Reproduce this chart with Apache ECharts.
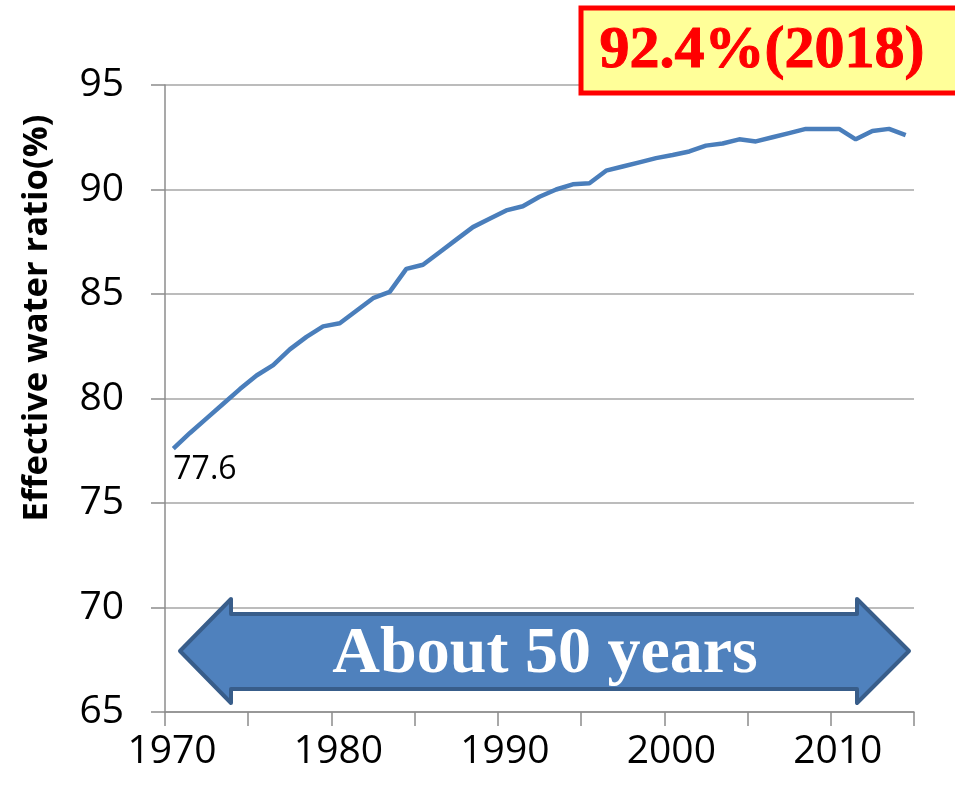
<!DOCTYPE html>
<html>
<head>
<meta charset="utf-8">
<script src="https://cdn.jsdelivr.net/npm/echarts@6/dist/echarts.min.js"></script>
<style>
html,body{margin:0;padding:0;background:#fff;}
#chart{width:955px;height:787px;}
</style>
</head>
<body>
<div id="chart"></div>
<script>
var years = [1970,1971,1972,1973,1974,1975,1976,1977,1978,1979,
             1980,1981,1982,1983,1984,1985,1986,1987,1988,1989,
             1990,1991,1992,1993,1994,1995,1996,1997,1998,1999,
             2000,2001,2002,2003,2004,2005,2006,2007,2008,2009,
             2010,2011,2012,2013,2014];
var ratio = [77.6,78.35,79.05,79.75,80.45,81.1,81.6,82.35,82.95,83.45,
             83.6,84.2,84.8,85.1,86.2,86.4,87.0,87.6,88.2,88.6,
             89.0,89.2,89.65,90.0,90.25,90.3,90.9,91.1,91.3,91.5,
             91.65,91.82,92.1,92.2,92.4,92.3,92.5,92.7,92.9,92.9,
             92.9,92.4,92.8,92.9,92.6];
var yTicks = [65,70,75,80,85,90,95];
var xTickLabels = [1970,1980,1990,2000,2010];
var yTitle = 'Effective water ratio(%)';
var startLabel = '77.6';
var boxText = '92.4%(2018)';
var arrowText = 'About 50 years';

var chart = echarts.init(document.getElementById('chart'));
var lineData = years.map(function (y, i) { return [y + 0.5, ratio[i]]; });

var option = {
  animation: false,
  backgroundColor: '#fff',
  grid: { left: 165, right: 41, top: 85, bottom: 75, containLabel: false },
  xAxis: {
    type: 'value', min: 1970, max: 2015, interval: 5,
    axisLine: { show: true, lineStyle: { color: '#8c8c8c', width: 1.5 } },
    axisTick: { show: true, length: 14, inside: false, lineStyle: { color: '#8c8c8c', width: 1.5 } },
    splitLine: { show: false },
    axisLabel: {
      margin: 20, fontFamily: 'Open Sans', fontSize: 39, color: '#000',
      padding: [0, 0, 0, 14],
      formatter: function (v) { return xTickLabels.indexOf(v) >= 0 ? String(v) : ''; }
    }
  },
  yAxis: {
    type: 'value', min: yTicks[0], max: yTicks[yTicks.length - 1], interval: 5,
    axisLine: { show: true, lineStyle: { color: '#8c8c8c', width: 1.5 } },
    axisTick: { show: true, length: 14, lineStyle: { color: '#8c8c8c', width: 1.5 } },
    splitLine: { show: true, lineStyle: { color: '#a6a6a6', width: 1.5 } },
    axisLabel: { margin: 41, fontFamily: 'Open Sans', fontSize: 39, color: '#000' }
  },
  series: [{
    type: 'line',
    data: lineData,
    showSymbol: false,
    symbol: 'none',
    lineStyle: { color: '#4a7ebb', width: 4.5 },
    z: 3,
    markPoint: {
      silent: true,
      symbol: 'circle',
      symbolSize: 1,
      itemStyle: { color: 'transparent' },
      label: {
        show: true, position: 'bottom', align: 'left', distance: 5,
        fontFamily: 'Open Sans', fontSize: 32, color: '#000000', opacity: 1
      },
      data: [{ coord: lineData[0], value: startLabel }]
    }
  }],
  graphic: [
    {
      type: 'text', x: 37, y: 318, rotation: Math.PI / 2, z: 10,
      style: {
        text: yTitle, fontFamily: 'Open Sans', fontWeight: 'bold', fontSize: 34.5,
        fill: '#000', align: 'center', verticalAlign: 'middle'
      }
    },
    {
      type: 'rect', z: 10,
      shape: { x: 581, y: 8, width: 380, height: 85 },
      style: { fill: '#ffff99', stroke: '#ff0000', lineWidth: 5 }
    },
    {
      type: 'text', x: 762, y: 51, z: 11,
      style: {
        text: boxText, fontFamily: 'Liberation Serif', fontWeight: 'bold', fontSize: 60,
        fill: '#ff0000', stroke: '#ff0000', lineWidth: 1, align: 'center', verticalAlign: 'middle'
      }
    },
    {
      type: 'polygon', z: 10,
      shape: { points: [[180,651],[231,599],[231,614],[857,614],[857,599],[909,651],[857,703],[857,689],[231,689],[231,703]] },
      style: { fill: '#4f81bd', stroke: '#385d8a', lineWidth: 4, lineJoin: 'round' }
    },
    {
      type: 'text', x: 545, y: 655, z: 11,
      style: {
        text: arrowText, fontFamily: 'Liberation Serif', fontWeight: 'bold', fontSize: 66,
        fill: '#ffffff', align: 'center', verticalAlign: 'middle'
      }
    }
  ]
};
chart.setOption(option);
</script>
</body>
</html>
